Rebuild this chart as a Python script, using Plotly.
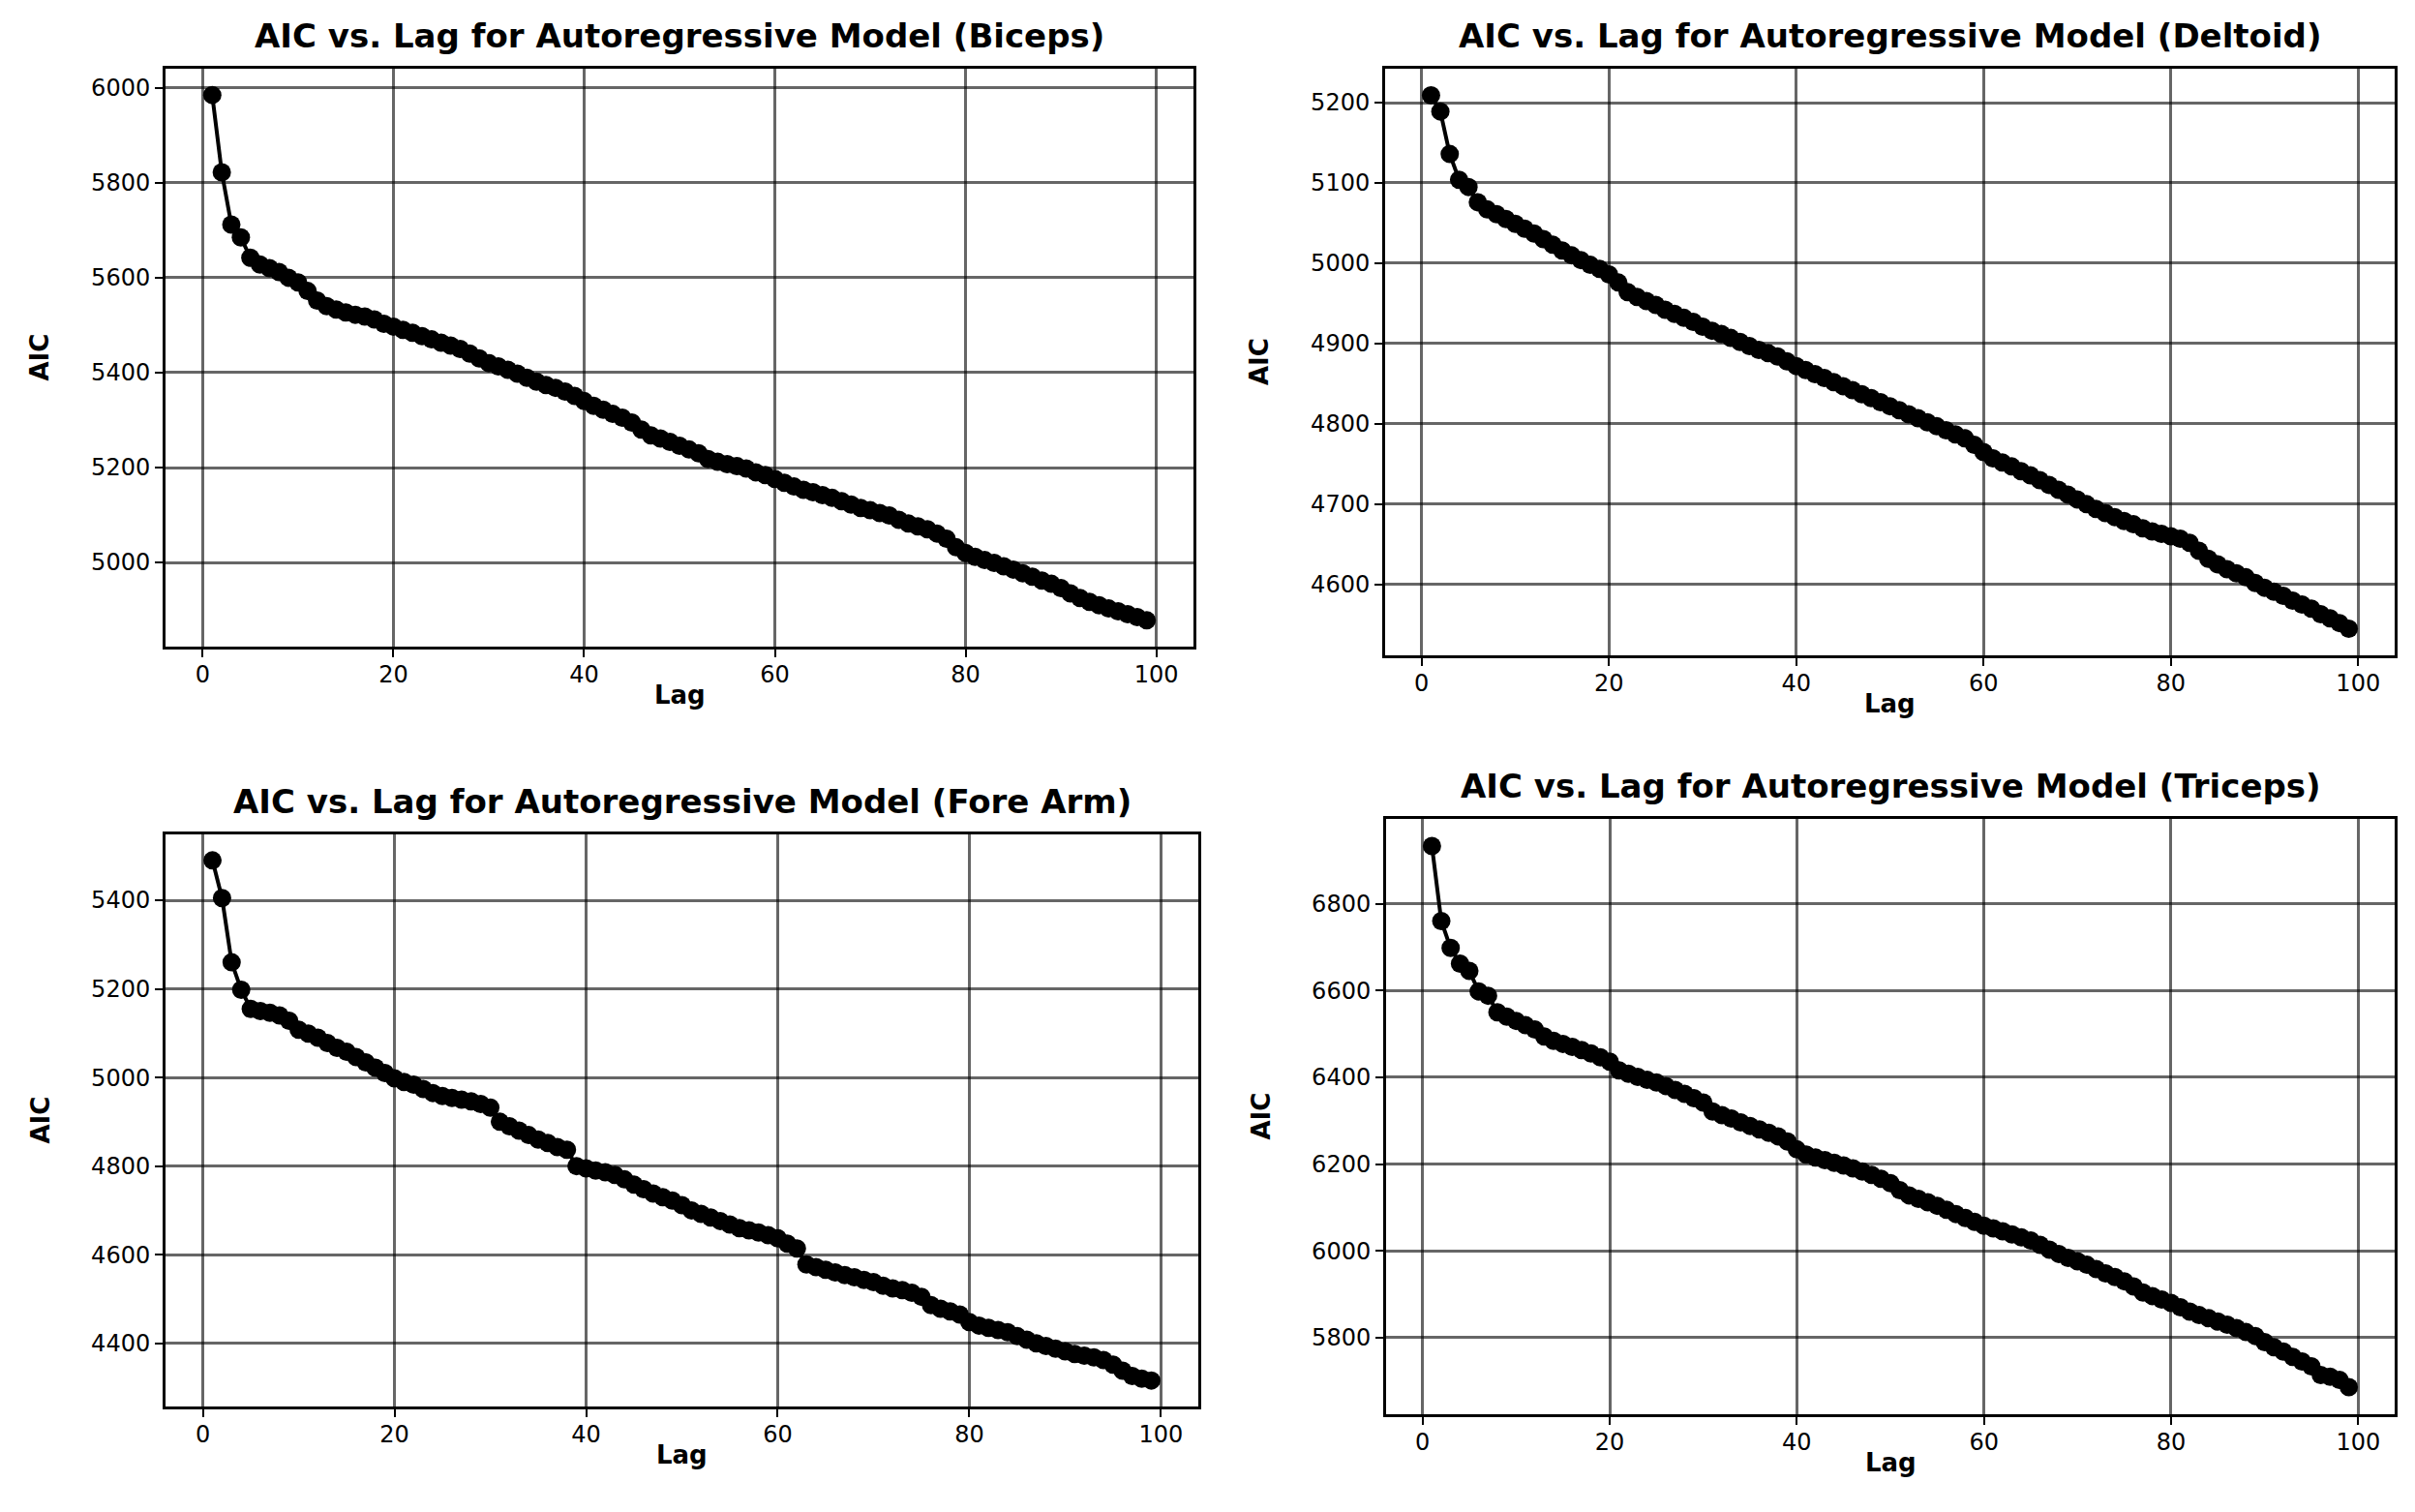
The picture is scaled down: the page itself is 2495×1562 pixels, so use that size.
import plotly.graph_objects as go

lags = list(range(1, 100))

biceps = [5985, 5822, 5712, 5685, 5642, 5628, 5620, 5612, 5600, 5590,
          5572, 5552, 5540, 5533, 5527, 5522, 5518, 5512, 5503, 5497,
          5490, 5484, 5477, 5470, 5463, 5457, 5450, 5440, 5430, 5420,
          5413, 5406, 5398, 5389, 5381, 5374, 5368, 5360, 5351, 5340,
          5330, 5322, 5313, 5305, 5295, 5280, 5268, 5261, 5254, 5246,
          5238, 5230, 5218, 5212, 5207, 5203, 5198, 5190, 5184, 5176,
          5168, 5160, 5153, 5148, 5142, 5136, 5129, 5122, 5115, 5110,
          5104, 5099, 5090, 5082, 5076, 5070, 5061, 5050, 5032, 5020,
          5012, 5005, 4999, 4992, 4985, 4977, 4970, 4962, 4955, 4946,
          4935, 4925, 4917, 4910, 4903, 4897, 4891, 4885, 4878]

deltoid = [5209, 5189, 5136, 5104, 5095, 5076, 5067, 5061, 5055, 5049,
           5043, 5037, 5030, 5023, 5016, 5010, 5004, 4998, 4993, 4986,
           4976, 4964, 4958, 4953, 4948, 4942, 4937, 4932, 4927, 4921,
           4916, 4912, 4907, 4902, 4897, 4892, 4888, 4884, 4878, 4872,
           4867, 4862, 4857, 4852, 4847, 4842, 4837, 4832, 4827, 4822,
           4817, 4812, 4807, 4802, 4797, 4792, 4787, 4782, 4774, 4765,
           4757, 4752, 4747, 4741, 4736, 4730, 4724, 4718, 4712, 4706,
           4700, 4694, 4689, 4684, 4679, 4675, 4670, 4666, 4663, 4660,
           4657, 4652, 4642, 4632, 4625, 4619, 4614, 4609, 4602, 4596,
           4591, 4586, 4580, 4575, 4570, 4563, 4558, 4552, 4545]

fore_arm = [5490, 5405, 5260, 5198, 5155, 5150, 5146, 5140, 5128, 5108,
            5099, 5090, 5078, 5067, 5058, 5046, 5034, 5022, 5010, 4998,
            4990, 4984, 4974, 4965, 4958, 4954, 4950, 4946, 4940, 4932,
            4900, 4890, 4880, 4870, 4860, 4852, 4843, 4837, 4800, 4795,
            4790, 4786, 4780, 4770, 4758, 4748, 4738, 4730, 4722, 4712,
            4700, 4692, 4684, 4676, 4668, 4660, 4655, 4650, 4644, 4637,
            4625, 4614, 4578, 4572, 4566, 4560, 4554, 4549, 4543, 4538,
            4530, 4524, 4520, 4514, 4505, 4486, 4478, 4472, 4465, 4448,
            4440, 4435, 4430, 4425, 4416, 4408, 4400, 4394, 4388, 4382,
            4376, 4372, 4368, 4362, 4352, 4338, 4326, 4320, 4316]

triceps = [6933, 6760, 6698, 6662, 6645, 6598, 6588, 6550, 6540, 6530,
           6520, 6510, 6494, 6484, 6477, 6470, 6463, 6455, 6446, 6436,
           6416, 6408, 6401, 6394, 6388, 6380, 6371, 6362, 6352, 6342,
           6321, 6313, 6305, 6296, 6288, 6280, 6272, 6264, 6252, 6234,
           6222, 6215, 6209, 6203, 6197, 6190, 6183, 6175, 6166, 6156,
           6140, 6128, 6120, 6112, 6104, 6095, 6085, 6076, 6067, 6058,
           6052, 6045, 6038, 6031, 6024, 6014, 6003, 5993, 5984, 5976,
           5968, 5958, 5948, 5940, 5930, 5918, 5904, 5896, 5888, 5880,
           5870, 5860, 5852, 5845, 5837, 5830, 5822, 5813, 5804, 5790,
           5778, 5768, 5756, 5745, 5734, 5714, 5710, 5703, 5686]

titles = ["AIC vs. Lag for Autoregressive Model (Biceps)",
          "AIC vs. Lag for Autoregressive Model (Deltoid)",
          "AIC vs. Lag for Autoregressive Model (Fore Arm)",
          "AIC vs. Lag for Autoregressive Model (Triceps)"]
series = [biceps, deltoid, fore_arm, triceps]
x_ticks = [0, 20, 40, 60, 80, 100]
y_ticks = [[5000, 5200, 5400, 5600, 5800, 6000],
           [4600, 4700, 4800, 4900, 5000, 5100, 5200],
           [4400, 4600, 4800, 5000, 5200, 5400],
           [5800, 6000, 6200, 6400, 6600, 6800]]

W, H = 2495, 1562
# plot boxes in pixels: left, right, top, bottom
boxes = [(163, 1225, 63, 660),
         (1423, 2466, 63, 669),
         (163, 1230, 854, 1445),
         (1424, 2466, 838, 1453)]

FONT = "DejaVu Sans"
fig = go.Figure()
annotations = []
for i, (ys, title, yt, box) in enumerate(zip(series, titles, y_ticks, boxes)):
    n = "" if i == 0 else str(i + 1)
    l, r, t, b = box
    xd = [l / W, r / W]
    yd = [1 - b / H, 1 - t / H]
    span = max(ys) - min(ys)
    yr = [min(ys) - 0.05 * span, max(ys) + 0.05 * span]
    xr = [1 - 0.05 * 98, 99 + 0.05 * 98]
    fig.add_trace(go.Scatter(
        x=lags, y=ys, mode="lines+markers",
        line=dict(color="#000000", width=4),
        marker=dict(color="#000000", size=19, symbol="circle"),
        xaxis="x" + n, yaxis="y" + n, showlegend=False))
    axcommon = dict(showline=True, linecolor="#000000", linewidth=3, mirror=True,
                    ticks="outside", ticklen=8, tickwidth=2, tickcolor="#000000",
                    showgrid=True, gridcolor="rgba(0,0,0,0.6)", gridwidth=3,
                    zeroline=False, tickfont=dict(family=FONT, size=24, color="#000000"))
    fig.update_layout(**{
        "xaxis" + n: dict(domain=xd, range=xr, tickvals=x_ticks,
                          anchor="y" + n, ticklabelstandoff=-3, **axcommon),
        "yaxis" + n: dict(domain=yd, range=yr, tickvals=yt,
                          anchor="x" + n, **axcommon),
    })
    cx = (l + r) / 2 / W
    annotations.append(dict(text="<b>" + title + "</b>", x=cx, y=1 - (t - 12) / H,
                            xref="paper", yref="paper", xanchor="center", yanchor="bottom",
                            showarrow=False, font=dict(family=FONT, size=34, color="#000000")))
    annotations.append(dict(text="<b>Lag</b>", x=cx, y=1 - (b + 50) / H,
                            xref="paper", yref="paper", xanchor="center", yanchor="middle",
                            showarrow=False, font=dict(family=FONT, size=26, color="#000000")))
    annotations.append(dict(text="<b>AIC</b>", x=(l - 130) / W, y=1 - (t + b) / 2 / H,
                            xref="paper", yref="paper", xanchor="center", yanchor="middle",
                            textangle=-90,
                            showarrow=False, font=dict(family=FONT, size=26, color="#000000")))

fig.update_layout(width=W, height=H, margin=dict(l=0, r=0, t=0, b=0),
                  paper_bgcolor="white", plot_bgcolor="white",
                  annotations=annotations)
fig.write_html("out.html")
